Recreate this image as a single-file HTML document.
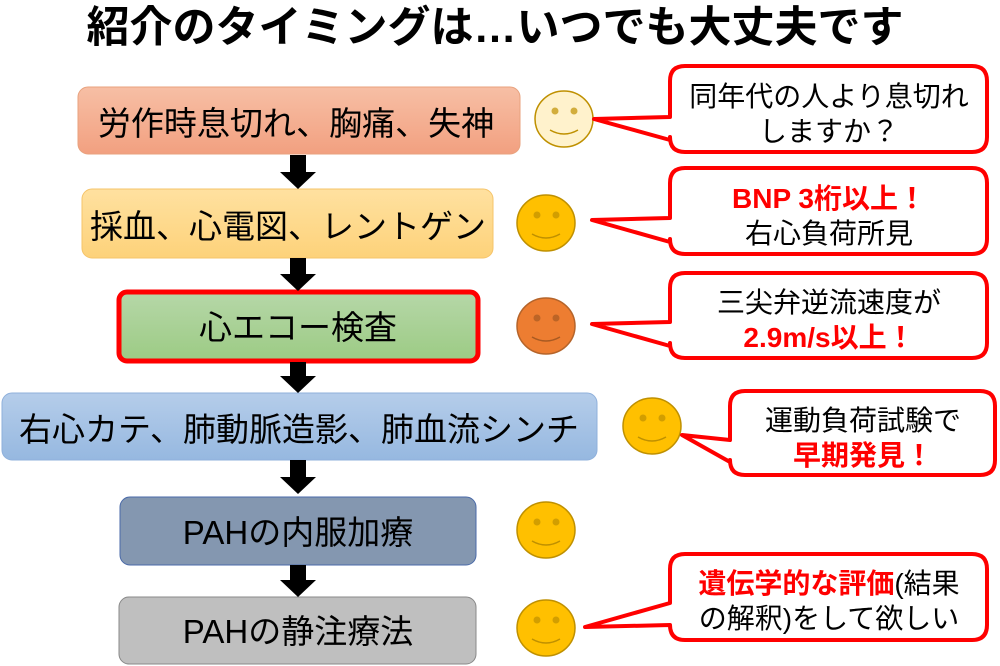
<!DOCTYPE html>
<html><head><meta charset="utf-8"><style>
html,body{margin:0;padding:0;background:#fff;width:1000px;height:666px;overflow:hidden}
text{font-family:"Liberation Sans","Noto Sans CJK JP",sans-serif}
</style></head><body>
<svg width="1000" height="666" viewBox="0 0 1000 666" xmlns="http://www.w3.org/2000/svg">
<defs>
<linearGradient id="g1" x1="0" y1="0" x2="0" y2="1"><stop offset="0" stop-color="#f7bfa5"/><stop offset="1" stop-color="#f2a080"/></linearGradient>
<linearGradient id="g2" x1="0" y1="0" x2="0" y2="1"><stop offset="0" stop-color="#ffe1a0"/><stop offset="1" stop-color="#fdd27a"/></linearGradient>
<linearGradient id="g3" x1="0" y1="0" x2="0" y2="1"><stop offset="0" stop-color="#b6d7a8"/><stop offset="1" stop-color="#9ccb84"/></linearGradient>
<linearGradient id="g4" x1="0" y1="0" x2="0" y2="1"><stop offset="0" stop-color="#b5cdea"/><stop offset="1" stop-color="#96b8e0"/></linearGradient>
</defs>
<text x="495" y="42" font-size="43" font-weight="bold" text-anchor="middle" fill="#000">紹介のタイミングは…いつでも大丈夫です</text>

<rect x="78" y="87" width="442" height="67" rx="10" fill="url(#g1)" stroke="#e8a27e" stroke-width="1"/>
<text x="296" y="135" font-size="33" text-anchor="middle">労作時息切れ、胸痛、失神</text>
<rect x="82" y="189" width="411" height="69" rx="10" fill="url(#g2)" stroke="#f5c46a" stroke-width="1"/>
<text x="288" y="238" font-size="33" text-anchor="middle">採血、心電図、レントゲン</text>
<rect x="119" y="292" width="359" height="69" rx="8" fill="url(#g3)" stroke="#ff0000" stroke-width="5"/>
<text x="298" y="339" font-size="33" text-anchor="middle">心エコー検査</text>
<rect x="2" y="393" width="595" height="67" rx="10" fill="url(#g4)" stroke="#8fb0db" stroke-width="1"/>
<text x="299" y="441" font-size="33" text-anchor="middle">右心カテ、肺動脈造影、肺血流シンチ</text>
<rect x="120" y="497" width="356" height="68" rx="10" fill="#8497b0" stroke="#4a6aa8" stroke-width="1"/>
<text x="298" y="544" font-size="33" text-anchor="middle">PAHの内服加療</text>
<rect x="119" y="597" width="357" height="67" rx="10" fill="#bfbfbf" stroke="#888" stroke-width="1"/>
<text x="298" y="643" font-size="33" text-anchor="middle">PAHの静注療法</text>

<g fill="#000">
<polygon points="290,155 306,155 306,172 316,172 298,189 280,172 290,172"/>
<polygon points="290,258 306,258 306,274 316,274 298,291 280,274 290,274"/>
<polygon points="290,362 306,362 306,376 316,376 298,393 280,376 290,376"/>
<polygon points="290,460 306,460 306,477 316,477 298,494 280,477 290,477"/>
<polygon points="290,565 306,565 306,580 316,580 298,597 280,580 290,580"/>
</g>

<g stroke="#bf9000" stroke-width="1.5">
<ellipse cx="564" cy="119" rx="29" ry="28" fill="#fff2cc"/>
<ellipse cx="546" cy="223" rx="29" ry="28" fill="#ffc000"/>
<ellipse cx="546" cy="326" rx="29" ry="28" fill="#ed7d31" stroke="#b5642a"/>
<ellipse cx="652" cy="426" rx="29" ry="28" fill="#ffc000"/>
<ellipse cx="546" cy="530" rx="29" ry="28" fill="#ffc000"/>
<ellipse cx="546" cy="628" rx="29" ry="28" fill="#ffc000"/>
</g>
<g fill="#bf9000" opacity="0.7">
<circle cx="555" cy="111" r="3.5"/><circle cx="574" cy="111" r="3.5"/>
<circle cx="537" cy="215" r="3.5"/><circle cx="556" cy="215" r="3.5"/>
<circle cx="537" cy="318" r="3.5" fill="#a85a22"/><circle cx="556" cy="318" r="3.5" fill="#a85a22"/>
<circle cx="643" cy="418" r="3.5"/><circle cx="662" cy="418" r="3.5"/>
<circle cx="537" cy="522" r="3.5"/><circle cx="556" cy="522" r="3.5"/>
<circle cx="537" cy="620" r="3.5"/><circle cx="556" cy="620" r="3.5"/>
</g>
<g fill="none" stroke="#bf9000" stroke-width="1.5">
<path d="M550,130 Q564,138 578,130"/>
<path d="M532,234 Q546,242 560,234"/>
<path d="M532,337 Q546,345 560,337" stroke="#a85a22"/>
<path d="M638,437 Q652,445 666,437"/>
<path d="M532,541 Q546,549 560,541"/>
<path d="M532,639 Q546,647 560,639"/>
</g>

<g fill="#fff" stroke="#ff0000" stroke-width="4" stroke-linejoin="round">
<path d="M685,66 H972 Q987,66 987,81 V137 Q987,152 972,152 H685 Q670,152 670,137 V140 L594,119 L670,117 V81 Q670,66 685,66 Z"/>
<path d="M685,168 H972 Q987,168 987,183 V239 Q987,254 972,254 H685 Q670,254 670,239 V242 L592,220 L670,218 V183 Q670,168 685,168 Z"/>
<path d="M685,273 H972 Q987,273 987,288 V343 Q987,358 972,358 H685 Q670,358 670,343 V346 L592,324 L670,322 V288 Q670,273 685,273 Z"/>
<path d="M745,391 H980 Q995,391 995,406 V460 Q995,475 980,475 H745 Q730,475 730,460 V462 L682,435 L730,440 V406 Q730,391 745,391 Z"/>
<path d="M685,554 H972 Q987,554 987,569 V625 Q987,640 972,640 H685 Q670,640 670,625 L585,627 L670,603 V569 Q670,554 685,554 Z"/>
</g>
<g font-size="28" text-anchor="middle" fill="#000">
<text x="829" y="106">同年代の人より息切れ</text>
<text x="829" y="141">しますか？</text>
<text x="829" y="208" fill="#ff0000" font-weight="bold">BNP 3桁以上！</text>
<text x="829" y="243">右心負荷所見</text>
<text x="829" y="312">三尖弁逆流速度が</text>
<text x="829" y="347" fill="#ff0000" font-weight="bold">2.9m/s以上！</text>
<text x="863" y="430">運動負荷試験で</text>
<text x="863" y="465" fill="#ff0000" font-weight="bold">早期発見！</text>
<text x="829" y="593"><tspan fill="#ff0000" font-weight="bold">遺伝学的な評価</tspan>(結果</text>
<text x="829" y="628">の解釈)をして欲しい</text>
</g>
</svg>
</body></html>
